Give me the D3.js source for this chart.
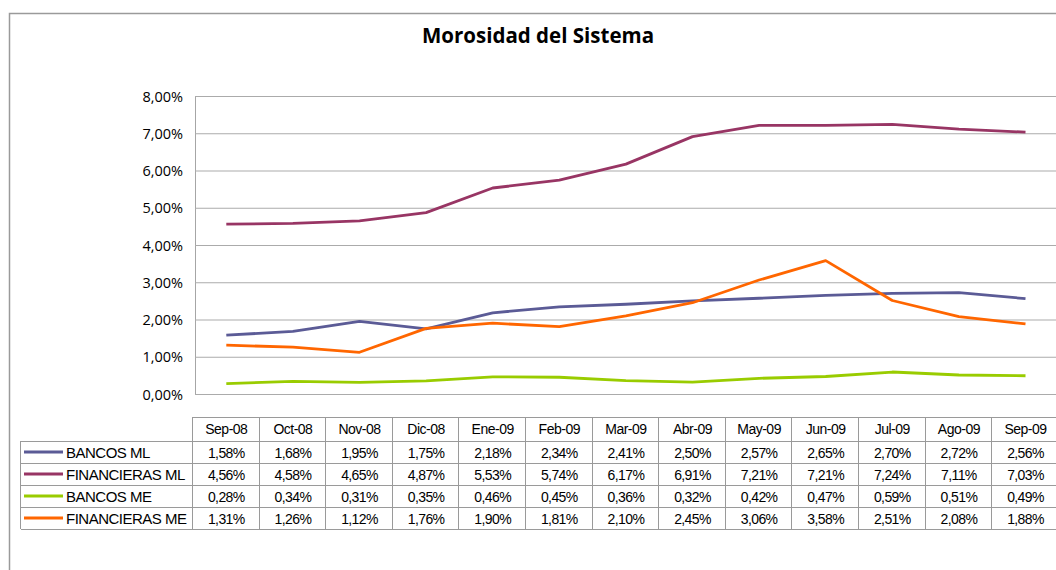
<!DOCTYPE html>
<html>
<head>
<meta charset="utf-8">
<title>Morosidad del Sistema</title>
<style>
  body { margin: 0; background: #fff; }
  svg { display: block; }
</style>
</head>
<body>
<script src="https://d3js.org/d3.v7.min.js"></script>
<script>
  var months = ["Sep-08", "Oct-08", "Nov-08", "Dic-08", "Ene-09", "Feb-09", "Mar-09",
                "Abr-09", "May-09", "Jun-09", "Jul-09", "Ago-09", "Sep-09"];
  var bancosML       = [1.58, 1.68, 1.95, 1.75, 2.18, 2.34, 2.41, 2.50, 2.57, 2.65, 2.70, 2.72, 2.56];
  var financierasML  = [4.56, 4.58, 4.65, 4.87, 5.53, 5.74, 6.17, 6.91, 7.21, 7.21, 7.24, 7.11, 7.03];
  var bancosME       = [0.28, 0.34, 0.31, 0.35, 0.46, 0.45, 0.36, 0.32, 0.42, 0.47, 0.59, 0.51, 0.49];
  var financierasME  = [1.31, 1.26, 1.12, 1.76, 1.90, 1.81, 2.10, 2.45, 3.06, 3.58, 2.51, 2.08, 1.88];
  var seriesNames = ["BANCOS ML", "FINANCIERAS ML", "BANCOS ME", "FINANCIERAS ME"];
  var yTicks = [0, 1, 2, 3, 4, 5, 6, 7, 8];

  var series = [
    { name: seriesNames[0], values: bancosML,      color: "#5b5b96" },
    { name: seriesNames[1], values: financierasML, color: "#983564" },
    { name: seriesNames[2], values: bancosME,      color: "#99cc00" },
    { name: seriesNames[3], values: financierasME, color: "#ff6600" }
  ];

  var w = 1056, h = 570;
  var plotLeft = 193, plotTop = 96, plotBottom = 394;
  var colW = 66.6;
  var tableTop = 417, headH = 24, rowH = 22, legendLeft = 21;

  var svg = d3.select("body").append("svg")
      .attr("width", w)
      .attr("height", h);

  // outer chart border
  svg.append("rect")
      .attr("x", 9.5).attr("y", 13.5)
      .attr("width", w + 20).attr("height", h + 20)
      .attr("fill", "none")
      .attr("stroke", "#9a9a9a")
      .attr("stroke-width", 1.5);

  svg.append("text")
      .attr("x", 538).attr("y", 43)
      .attr("text-anchor", "middle")
      .attr("font-family", "'Open Sans', sans-serif")
      .attr("font-weight", "bold")
      .attr("font-size", "20.5px")
      .attr("fill", "#000")
      .text("Morosidad del Sistema");

  var x = d3.scaleBand()
      .domain(months)
      .range([plotLeft, plotLeft + colW * months.length]);

  var y = d3.scaleLinear()
      .domain([0, 8])
      .range([plotBottom, plotTop]);

  var pctComma = function(v) { return d3.format(".2f")(v).replace(".", ",") + "%"; };

  // gridlines + y labels
  var yAxis = d3.axisLeft(y)
      .tickValues(yTicks)
      .tickSize(-(w + 20 - plotLeft))
      .tickPadding(12)
      .tickFormat(pctComma);

  var gy = svg.append("g")
      .attr("transform", "translate(" + (plotLeft + 2) + ",0)")
      .call(yAxis);
  gy.select(".domain")
      .attr("d", "M0.5," + plotTop + "V" + plotBottom)
      .attr("stroke", "#a6a6a6");
  gy.selectAll(".tick line").attr("stroke", "#ababab").attr("stroke-width", 1.2);
  gy.selectAll(".tick text")
      .attr("font-family", "'Open Sans', sans-serif")
      .attr("font-size", "14.5px")
      .attr("dy", "0.36em")
      .attr("fill", "#000");

  var line = d3.line()
      .x(function(d, i) { return x(months[i]) + x.bandwidth() / 2; })
      .y(function(d) { return y(d); });

  svg.selectAll("path.series")
      .data(series)
      .enter()
      .append("path")
        .attr("class", "series")
        .attr("d", function(d) { return line(d.values); })
        .attr("fill", "none")
        .attr("stroke", function(d) { return d.color; })
        .attr("stroke-width", 2.8)
        .attr("stroke-linejoin", "round");

  // data table
  var table = svg.append("g");
  var tableRight = plotLeft + colW * months.length;
  var bodyTop = tableTop + headH;
  var bodyBottom = bodyTop + rowH * series.length;
  var gridColor = "#9a9a9a";

  table.append("line")
      .attr("x1", plotLeft).attr("x2", tableRight)
      .attr("y1", tableTop + 0.5).attr("y2", tableTop + 0.5)
      .attr("stroke", gridColor);

  table.selectAll("line.hrow")
      .data(d3.range(series.length + 1))
      .enter()
      .append("line")
        .attr("class", "hrow")
        .attr("x1", legendLeft).attr("x2", tableRight)
        .attr("y1", function(d) { return bodyTop + d * rowH + 0.5; })
        .attr("y2", function(d) { return bodyTop + d * rowH + 0.5; })
        .attr("stroke", gridColor);

  table.selectAll("line.vcol")
      .data(months.concat(["end"]))
      .enter()
      .append("line")
        .attr("class", "vcol")
        .attr("x1", function(d, i) { return Math.round(plotLeft + i * colW) - 0.5; })
        .attr("x2", function(d, i) { return Math.round(plotLeft + i * colW) - 0.5; })
        .attr("y1", tableTop).attr("y2", bodyBottom)
        .attr("stroke", gridColor);

  table.append("line")
      .attr("x1", legendLeft - 0.5).attr("x2", legendLeft - 0.5)
      .attr("y1", bodyTop).attr("y2", bodyBottom)
      .attr("stroke", gridColor);

  table.selectAll("text.head")
      .data(months)
      .enter()
      .append("text")
        .attr("class", "head")
        .attr("x", function(d) { return x(d) + x.bandwidth() / 2; })
        .attr("y", tableTop + headH / 2 + 5)
        .attr("text-anchor", "middle")
        .attr("font-family", "'Liberation Sans', Arial, sans-serif")
        .attr("font-size", "14px")
        .attr("letter-spacing", "-0.5px")
        .text(function(d) { return d; });

  var rows = table.selectAll("g.row")
      .data(series)
      .enter()
      .append("g")
        .attr("class", "row")
        .attr("transform", function(d, i) { return "translate(0," + (bodyTop + i * rowH + rowH / 2) + ")"; });

  rows.append("line")
      .attr("x1", 24).attr("x2", 63)
      .attr("y1", 0).attr("y2", 0)
      .attr("stroke", function(d) { return d.color; })
      .attr("stroke-width", 3);

  rows.append("text")
      .attr("x", 66).attr("y", 5.5)
      .attr("font-family", "'Liberation Sans', Arial, sans-serif")
      .attr("font-size", "15px")
      .attr("letter-spacing", "-0.5px")
      .text(function(d) { return d.name; });

  rows.selectAll("text.val")
      .data(function(d) { return d.values; })
      .enter()
      .append("text")
        .attr("class", "val")
        .attr("x", function(d, i) { return x(months[i]) + x.bandwidth() / 2; })
        .attr("y", 5.5)
        .attr("text-anchor", "middle")
        .attr("font-family", "'Liberation Sans', Arial, sans-serif")
        .attr("font-size", "14px")
        .attr("letter-spacing", "-0.6px")
        .text(function(d) { return pctComma(d); });
</script>
</body>
</html>
